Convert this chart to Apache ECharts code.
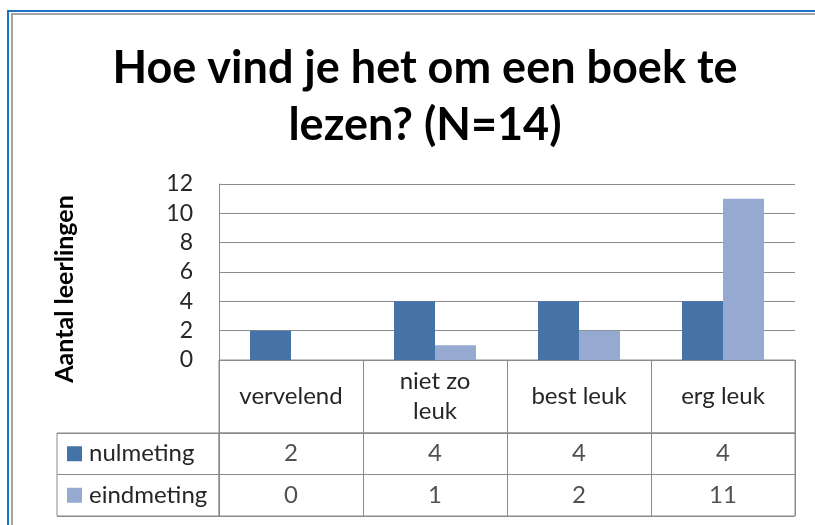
<!DOCTYPE html>
<html>
<head>
<meta charset="utf-8">
<script src="https://cdn.jsdelivr.net/npm/echarts@6/dist/echarts.min.js"></script>
<style>
  html, body { margin: 0; padding: 0; background: #ffffff; }
  #wrap { position: relative; width: 815px; height: 525px; overflow: hidden; background: #fff; }
  #f1 { position: absolute; left: 7px; top: 10px; width: 900px; height: 600px; border-left: 2px solid #1a73c6; border-top: 2px solid #1a73c6; }
  #f2 { position: absolute; left: 11px; top: 13px; width: 900px; height: 600px; border-left: 2px solid #a3a3a3; border-top: 2px solid #a3a3a3; }
  #chart { position: absolute; left: 0; top: 0; width: 815px; height: 525px; }
</style>
</head>
<body>
<div id="wrap">
  <div id="f1"></div>
  <div id="f2"></div>
  <div id="chart"></div>
</div>
<script>
const titleText = 'Hoe vind je het om een boek te\nlezen? (N=14)';
const yAxisTitle = 'Aantal leerlingen';
const categories = ['vervelend', 'niet zo\nleuk', 'best leuk', 'erg leuk'];
const seriesNames = ['nulmeting', 'eindmeting'];
const nulmeting = [2, 4, 4, 4];
const eindmeting = [0, 1, 2, 11];
const yTicks = { min: 0, max: 12, interval: 2 };

const colors = ['#4572A7', '#95A9D1'];
const lineColor = '#8a8a8a';
const textColor = '#262626';
const font = 'Lato';

const tableCells = [];
categories.forEach((c, i) => {
  tableCells.push([i, 0, nulmeting[i]]);
  tableCells.push([i, 1, eindmeting[i]]);
});

const chart = echarts.init(document.getElementById('chart'), null, { renderer: 'canvas' });
chart.setOption({
  animation: false,
  textStyle: { fontFamily: font },
  title: {
    text: titleText,
    left: 420,
    textAlign: 'center',
    top: 35,
    textStyle: { fontFamily: font, fontSize: 45, fontWeight: 'bold', color: '#000', lineHeight: 57 }
  },
  graphic: [{
    type: 'text',
    x: 65, y: 289,
    rotation: Math.PI / 2,
    style: {
      text: yAxisTitle, fontFamily: font, fontSize: 25, fontWeight: 'bold', fill: '#000',
      align: 'center', verticalAlign: 'middle'
    }
  }],
  grid: [
    { left: 219, width: 576, top: 184, height: 176 },
    { left: 219, width: 576, top: 360, height: 73, show: true, borderColor: lineColor, borderWidth: 1 },
    { left: 219, width: 576, top: 433, height: 83, show: true, borderColor: lineColor, borderWidth: 1 },
    { left: 57, width: 162, top: 433, height: 83, show: true, borderColor: lineColor, borderWidth: 1 }
  ],
  xAxis: [
    {
      gridIndex: 0, type: 'category', data: categories,
      axisLine: { show: false }, axisTick: { show: false }, splitLine: { show: false },
      axisLabel: {
        interval: 0, margin: 36, verticalAlign: 'middle', align: 'center',
        fontFamily: font, fontSize: 24, color: textColor, lineHeight: 30
      }
    },
    {
      gridIndex: 1, type: 'category', data: categories,
      axisLine: { show: false }, axisTick: { show: false }, axisLabel: { show: false },
      splitLine: { show: true, interval: 0, lineStyle: { color: lineColor, width: 1 } }
    },
    {
      gridIndex: 2, type: 'category', data: categories,
      axisLine: { show: false }, axisTick: { show: false }, axisLabel: { show: false },
      splitLine: { show: true, interval: 0, lineStyle: { color: lineColor, width: 1 } }
    },
    {
      gridIndex: 3, type: 'value', show: false
    }
  ],
  yAxis: [
    {
      gridIndex: 0, type: 'value', min: yTicks.min, max: yTicks.max, interval: yTicks.interval,
      axisLine: { show: true, lineStyle: { color: lineColor, width: 1 } },
      axisTick: { show: false },
      splitLine: { show: true, lineStyle: { color: lineColor, width: 1 } },
      axisLabel: { margin: 26, fontFamily: font, fontSize: 23, color: textColor }
    },
    {
      gridIndex: 1, type: 'value', show: false
    },
    {
      gridIndex: 2, type: 'category', data: seriesNames, inverse: true,
      axisLine: { show: false }, axisTick: { show: false },
      splitLine: { show: true, interval: 0, lineStyle: { color: lineColor, width: 1 } },
      axisLabel: {
        interval: 0, margin: 152, align: 'left',
        formatter: (v, i) => '{k' + i + '|}{t|' + v + '}',
        rich: {
          k0: { width: 15, height: 15, backgroundColor: colors[0] },
          k1: { width: 15, height: 15, backgroundColor: colors[1] },
          t: { fontFamily: font, fontSize: 24, color: textColor, padding: [0, 0, 0, 7] }
        }
      }
    },
    {
      gridIndex: 3, type: 'category', data: seriesNames, inverse: true,
      axisLine: { show: false }, axisTick: { show: false }, axisLabel: { show: false },
      splitLine: { show: true, interval: 0, lineStyle: { color: lineColor, width: 1 } }
    }
  ],
  series: [
    {
      name: seriesNames[0], type: 'bar', xAxisIndex: 0, yAxisIndex: 0,
      data: nulmeting, barWidth: 41, barGap: '0%',
      itemStyle: { color: colors[0] }
    },
    {
      name: seriesNames[1], type: 'bar', xAxisIndex: 0, yAxisIndex: 0,
      data: eindmeting, barWidth: 41, barGap: '0%',
      itemStyle: { color: colors[1] }
    },
    {
      type: 'scatter', xAxisIndex: 2, yAxisIndex: 2, data: tableCells,
      symbolSize: 1, itemStyle: { color: 'rgba(0,0,0,0)' }, silent: true,
      label: {
        show: true, position: 'inside', formatter: p => String(p.value[2]),
        fontFamily: font, fontSize: 24, color: textColor
      }
    }
  ]
});
</script>
</body>
</html>
